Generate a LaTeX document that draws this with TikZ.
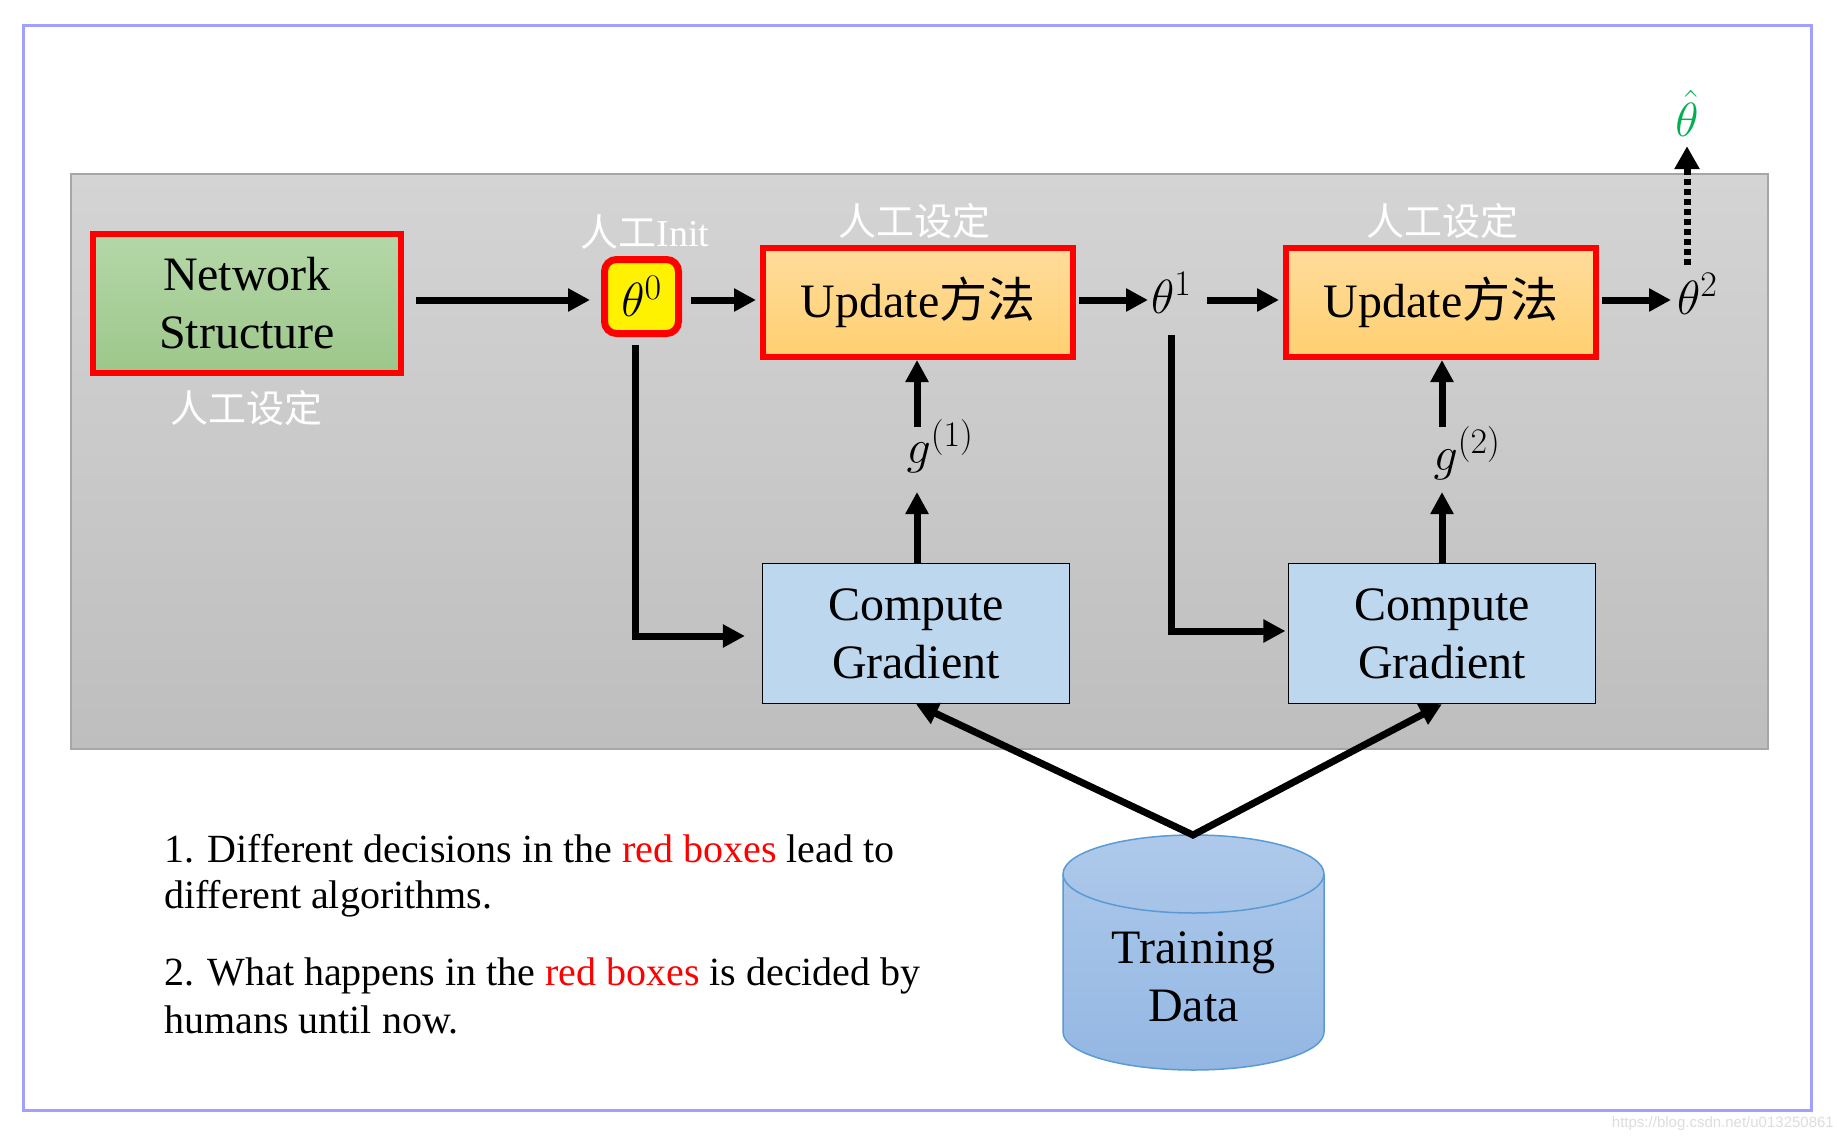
\RequirePackage{fix-cm}
\documentclass[tikz,border=0pt]{standalone}
\usepackage{fontspec}
\setmainfont{Liberation Serif}
\newfontfamily\cjk{Noto Sans CJK SC}
\newfontfamily\wmfont{Liberation Sans}
\usetikzlibrary{arrows.meta}
\DeclareMathSizes{48}{48}{36}{28}
\definecolor{frameblue}{HTML}{A0A0FF}
\definecolor{panelTop}{HTML}{D4D4D4}
\definecolor{panelBot}{HTML}{BEBEBE}
\definecolor{panelLine}{HTML}{A6A6A6}
\definecolor{nsTop}{HTML}{B5D7A8}
\definecolor{nsBot}{HTML}{9CC78A}
\definecolor{upTop}{HTML}{FFDC9C}
\definecolor{upBot}{HTML}{FFD070}
\definecolor{cgFill}{HTML}{BDD7EE}
\definecolor{cylTop}{HTML}{AEC9EA}
\definecolor{cylBot}{HTML}{93B7E3}
\definecolor{cylLine}{HTML}{5B9BD5}
\definecolor{hatgreen}{HTML}{00B050}
\definecolor{wmgray}{HTML}{DDDDDD}
\newcommand\mybig{\fontsize{48}{58}\selectfont}
\newcommand\mymath{\fontsize{48}{58}\selectfont}
\newcommand\mycjklabel{\fontsize{38}{44}\selectfont}
\newcommand\mynote{\fontsize{40}{47}\selectfont}
\begin{document}
\begin{tikzpicture}[x=1pt,y=-1pt,
  redbox/.style={draw=red, line width=6pt},
  nsbox/.style={redbox, top color=nsTop, bottom color=nsBot, minimum width=308pt, minimum height=139pt, inner sep=0pt, align=center, font=\mybig},
  upbox/.style={redbox, top color=upTop, bottom color=upBot, minimum width=310pt, minimum height=109pt, inner sep=0pt, font=\mybig},
  thbox/.style={draw=red, line width=7pt, fill=yellow, rounded corners=12pt, minimum width=74pt, minimum height=74pt, inner sep=0pt, font=\mymath},
  cgbox/.style={draw=black, line width=1.2pt, fill=cgFill, minimum width=307pt, minimum height=140pt, inner sep=0pt, align=center, font=\mybig},
  wlabel/.style={text=white, font=\mycjklabel, inner sep=0pt},
  mlabel/.style={font=\mymath, inner sep=0pt},
  arr/.style={line width=7pt, -{Triangle[length=22pt,width=22pt]}},
  dotarr/.style={line width=7pt, dash pattern=on 6pt off 4pt, -{Triangle[length=23pt,width=24pt]}},
  note/.style={font=\mynote, anchor=base west, inner sep=0pt}]
\useasboundingbox (0,0) rectangle (1837,1137);
\fill[white] (0,0) rectangle (1837,1137);
% outer frame
\draw[frameblue, line width=3.5pt] (23.5,25.5) rectangle (1811.5,1110.5);
% gray panel
\path[draw=panelLine, line width=1.5pt, top color=panelTop, bottom color=panelBot] (71,174) rectangle (1768,749);

\coordinate (row) at (0,300);

% nodes
\node[nsbox] (ns) at (247,303.5) {Network\\Structure};
\node[wlabel] (nslab) at (246,408) {\cjk 人工设定};
\node[thbox] (th0) at (641.5,296.5) {$\theta^0$};
\node[wlabel] (th0lab) at (645,232) {{\cjk 人工}Init};
\node[upbox] (ud1) at (918,302.5) {Update{\cjk 方法}};
\node[wlabel] (ud1lab) at (914,221) {\cjk 人工设定};
\node[mlabel, anchor=west] (th1) at (1151,293) {$\theta^1$};
\node[upbox] (ud2) at (1441,302.5) {Update{\cjk 方法}};
\node[wlabel] (ud2lab) at (1442,221) {\cjk 人工设定};
\node[mlabel, anchor=west] (th2) at (1677,294) {$\theta^2$};
\node[mlabel, text=hatgreen] (thhat) at (1687,113) {$\hat{\theta}$};

\node[cgbox] (cg1) at (916,633.5) {Compute\\Gradient};
\node[cgbox] (cg2) at (1442,633.5) {Compute\\Gradient};
\node[mlabel] (g1) at (940,446) {$g^{(1)}$};
\node[mlabel] (g2) at (1467,453) {$g^{(2)}$};
\coordinate (g1t) at (917,427);
\coordinate (g1b) at (917,492);
\coordinate (g2t) at (1442,427);
\coordinate (g2b) at (1442,492);

% training data cylinder
\path[draw=cylLine, line width=1.5pt, top color=cylTop, bottom color=cylBot]
  (1063,874) -- (1063,1032) arc[start angle=180, end angle=360, x radius=130.5pt, y radius=38pt]
  -- (1324,874) arc[start angle=0, end angle=180, x radius=130.5pt, y radius=39pt] -- cycle;
\draw[cylLine, line width=1.5pt] (1063,874) arc[start angle=180, end angle=360, x radius=130.5pt, y radius=39pt];
\node[font=\mybig, align=center, inner sep=0pt] (td) at (1193.5,977) {Training\\Data};
\coordinate (apex) at (1193,835);

% main row arrows
\draw[arr, shorten <=12pt, shorten >=11pt] (ns.east |- row) -- (th0.west |- row);
\draw[arr, shorten <=9pt, shorten >=4pt] (th0.east |- row) -- (ud1.west |- row);
\draw[arr, shorten <=3pt, shorten >=3pt] (ud1.east |- row) -- (th1.west |- row);
\draw[arr, shorten <=15pt, shorten >=4pt] (th1.east |- row) -- (ud2.west |- row);
\draw[arr, shorten <=3pt, shorten >=6pt] (ud2.east |- row) -- (th2.west |- row);
\draw[dotarr, shorten <=8pt, shorten >=10pt] (thhat.south |- th2.north) -- (thhat.south);

% gradient arrows
\draw[arr] (g1b |- cg1.north) -- (g1b);
\draw[arr] (g1t) -- (g1t |- ud1.south);
\draw[arr] (g2b |- cg2.north) -- (g2b);
\draw[arr] (g2t) -- (g2t |- ud2.south);

% parameter feeds
\draw[arr, shorten <=8pt] ([xshift=-6pt]th0.south) |- ([xshift=-17pt,yshift=-2.5pt]cg1.west);
\coordinate (th1drop) at (1171,335);
\draw[arr] (th1drop) |- ([xshift=-2.5pt,yshift=2.5pt]cg2.west);

% data arrows
\draw[line width=7pt, line join=miter, {Triangle[length=22pt,width=22pt]}-{Triangle[length=22pt,width=22pt]}] (cg1.south) -- (apex) -- (cg2.south);

% notes
\node[note] (n1) at (164,862) {1. Different decisions in the \textcolor{red}{red boxes} lead to};
\node[note] (n2) at (164,908) {different algorithms.};
\node[note] (n3) at (164,985) {2. What happens in the \textcolor{red}{red boxes} is decided by};
\node[note] (n4) at (164,1033) {humans until now.};

% watermark
\node[anchor=base east, font=\wmfont\fontsize{15}{17}\selectfont, text=wmgray, inner sep=0pt] (wm) at (1834,1127) {https://blog.csdn.net/u013250861};
\end{tikzpicture}
\end{document}
